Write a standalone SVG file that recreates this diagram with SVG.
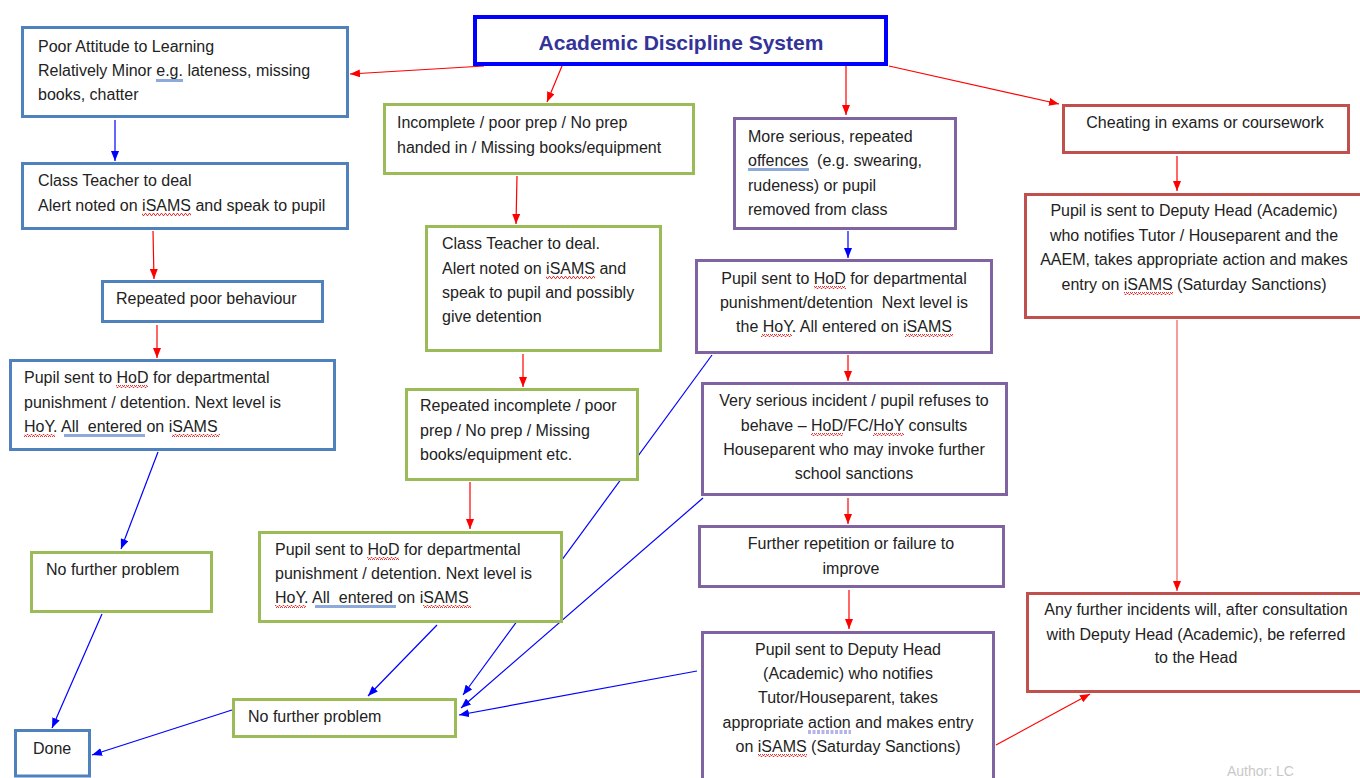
<svg xmlns="http://www.w3.org/2000/svg" width="1360" height="778" viewBox="0 0 1360 778">
<style>
text{font-family:"Liberation Sans",Arial,sans-serif;font-size:16px;fill:#222;white-space:pre}
.c{text-anchor:middle}
.title{font-size:21px;font-weight:bold;fill:#333399;text-anchor:middle}
.box{fill:#fff;stroke-width:3}
.bl{stroke:#4f81bd}.gr{stroke:#9bbb59}.pu{stroke:#8064a2}.rd{stroke:#c0504d}
.r{stroke:#ff0000;stroke-width:1.2;fill:none;marker-end:url(#ar)}
.b{stroke:#0000ff;stroke-width:1.2;fill:none;marker-end:url(#ab)}
.sq{fill:url(#wavy)}
.gm{fill:#8eaadb}
.gd{stroke:#6a6ad8;stroke-width:1;stroke-dasharray:3 1.5}
.auth{fill:#c8c8c8;font-size:14px}
</style>
<defs>
<marker id="ar" markerUnits="userSpaceOnUse" markerWidth="10" markerHeight="8" refX="10" refY="4" orient="auto"><path d="M0,0 L10,4 L0,8 z" fill="#ff0000"/></marker>
<marker id="ab" markerUnits="userSpaceOnUse" markerWidth="10" markerHeight="8" refX="10" refY="4" orient="auto"><path d="M0,0 L10,4 L0,8 z" fill="#0000ff"/></marker>
<pattern id="wavy" patternUnits="userSpaceOnUse" width="4" height="3"><path d="M0,2.5 L1,0.5 L2,0.5 L3,2.5 L4,2.5" fill="none" stroke="#e02020" stroke-width="0.9"/></pattern>
</defs>
<rect width="1360" height="778" fill="#fff"/>
<g id="connectors">
<line class="r" x1="484" y1="66" x2="350" y2="74"/>
<line class="r" x1="562" y1="66" x2="547" y2="102"/>
<line class="r" x1="846" y1="66" x2="846" y2="115"/>
<line class="r" x1="889" y1="66" x2="1059" y2="104"/>
<line class="b" x1="115" y1="120" x2="115" y2="161"/>
<line class="r" x1="153" y1="231" x2="154" y2="279"/>
<line class="r" x1="157" y1="325" x2="157" y2="358"/>
<line class="b" x1="158" y1="452" x2="121" y2="549"/>
<line class="b" x1="102" y1="614" x2="52" y2="728"/>
<line class="r" x1="517" y1="176" x2="516" y2="224"/>
<line class="r" x1="523" y1="354" x2="523" y2="387"/>
<line class="r" x1="470" y1="482" x2="470" y2="529"/>
<line class="b" x1="437" y1="625" x2="368" y2="696"/>
<line class="b" x1="712" y1="355" x2="463" y2="695"/>
<line class="b" x1="703" y1="498" x2="461" y2="708"/>
<line class="b" x1="697" y1="671" x2="459" y2="715"/>
<line class="b" x1="232" y1="710" x2="92" y2="755"/>
<line class="b" x1="848" y1="231" x2="848" y2="258"/>
<line class="r" x1="848" y1="355" x2="848" y2="381"/>
<line class="r" x1="848" y1="498" x2="848" y2="524"/>
<line class="r" x1="849" y1="590" x2="849" y2="629"/>
<line class="r" x1="1177" y1="156" x2="1177" y2="191"/>
<line class="r" x1="1177" y1="320" x2="1177" y2="591" style="stroke:#f25a5a"/>
<line class="r" x1="996" y1="745" x2="1090" y2="694"/>
</g>
<g id="title">
<rect x="475" y="17" width="411" height="47" fill="#fff" stroke="#0000ff" stroke-width="4"/>
<text class="title" x="681" y="50">Academic Discipline System</text>
</g>
<g id="poor-attitude">
<rect class="box bl" x="22.5" y="27.5" width="325" height="89"/>
<text x="38" y="52">Poor Attitude to Learning</text>
<text x="38" y="76">Relatively Minor e.g. lateness, missing</text>
<text x="38" y="100">books, chatter</text>
<rect class="gm" x="156" y="79" width="27" height="3"/>
</g>
<g id="class-teacher-1">
<rect class="box bl" x="22.5" y="163.5" width="325" height="65"/>
<text x="38" y="186">Class Teacher to deal</text>
<text x="38" y="211">Alert noted on iSAMS and speak to pupil</text>
<rect class="sq" x="142" y="213" width="49" height="3"/>
</g>
<g id="repeated-poor">
<rect class="box bl" x="102.5" y="281.5" width="220" height="40"/>
<text x="116" y="304">Repeated poor behaviour</text>
</g>
<g id="hod-1">
<rect class="box bl" x="10.5" y="360.5" width="324" height="89"/>
<text x="24" y="383">Pupil sent to HoD for departmental</text>
<text x="24" y="408">punishment / detention. Next level is</text>
<text x="24" y="432">HoY. All  entered on iSAMS</text>
<rect class="sq" x="116" y="385" width="32" height="3"/>
<rect class="sq" x="24" y="434" width="31" height="3"/>
<rect class="gm" x="64" y="434" width="81" height="3"/>
<rect class="sq" x="172" y="434" width="48" height="3"/>
</g>
<g id="no-further-1">
<rect class="box gr" x="31.5" y="552.5" width="180" height="59"/>
<text x="46" y="575">No further problem</text>
</g>
<g id="done">
<rect class="box bl" x="15.5" y="730.5" width="74" height="45.5" stroke-width="3.5"/>
<text x="33" y="754">Done</text>
</g>
<g id="incomplete">
<rect class="box gr" x="384.5" y="104.5" width="309" height="69"/>
<text x="397" y="128">Incomplete / poor prep / No prep</text>
<text x="397" y="153">handed in / Missing books/equipment</text>
</g>
<g id="class-teacher-2">
<rect class="box gr" x="426.5" y="226.5" width="234" height="124"/>
<text x="442" y="249">Class Teacher to deal.</text>
<text x="442" y="274">Alert noted on iSAMS and</text>
<text x="442" y="298">speak to pupil and possibly</text>
<text x="442" y="322">give detention</text>
<rect class="sq" x="546" y="276" width="49" height="3"/>
</g>
<g id="repeated-incomplete">
<rect class="box gr" x="406.5" y="389.5" width="231" height="90"/>
<text x="420" y="411">Repeated incomplete / poor</text>
<text x="420" y="436">prep / No prep / Missing</text>
<text x="420" y="460">books/equipment etc.</text>
</g>
<g id="hod-2">
<rect class="box gr" x="259.5" y="532.5" width="302" height="89"/>
<text x="275" y="555">Pupil sent to HoD for departmental</text>
<text x="275" y="579">punishment / detention. Next level is</text>
<text x="275" y="603">HoY. All  entered on iSAMS</text>
<rect class="sq" x="367" y="557" width="32" height="3"/>
<rect class="sq" x="275" y="605" width="31" height="3"/>
<rect class="gm" x="315" y="605" width="81" height="3"/>
<rect class="sq" x="423" y="605" width="48" height="3"/>
</g>
<g id="no-further-2">
<rect class="box gr" x="233.5" y="699.5" width="222" height="37"/>
<text x="248" y="722">No further problem</text>
</g>
<g id="more-serious">
<rect class="box pu" x="734.5" y="118.5" width="221" height="110"/>
<text x="748" y="142">More serious, repeated</text>
<text x="748" y="166">offences  (e.g. swearing,</text>
<text x="748" y="191">rudeness) or pupil</text>
<text x="748" y="215">removed from class</text>
<rect class="gm" x="748" y="168" width="61" height="3"/>
</g>
<g id="hod-3">
<rect class="box pu" x="696.5" y="260.5" width="295" height="92"/>
<text class="c" x="844" y="284">Pupil sent to HoD for departmental</text>
<text class="c" x="844" y="308">punishment/detention  Next level is</text>
<text class="c" x="844" y="332">the HoY. All entered on iSAMS</text>
<rect class="sq" x="814" y="286" width="32" height="3"/>
<rect class="sq" x="761" y="334" width="31" height="3"/>
<rect class="sq" x="905" y="334" width="48" height="3"/>
</g>
<g id="very-serious">
<rect class="box pu" x="702.5" y="383.5" width="304" height="111"/>
<text class="c" x="854" y="406">Very serious incident / pupil refuses to</text>
<text class="c" x="854" y="431">behave – HoD/FC/HoY consults</text>
<text class="c" x="854" y="455">Houseparent who may invoke further</text>
<text class="c" x="854" y="479">school sanctions</text>
<rect class="sq" x="811" y="433" width="32" height="3"/>
<rect class="sq" x="873" y="433" width="31" height="3"/>
</g>
<g id="further-repetition">
<rect class="box pu" x="699.5" y="526.5" width="304" height="60"/>
<text class="c" x="851" y="549">Further repetition or failure to</text>
<text class="c" x="851" y="574">improve</text>
</g>
<g id="deputy-head-1">
<rect class="box pu" x="702.5" y="632.5" width="291" height="160"/>
<text class="c" x="848" y="655">Pupil sent to Deputy Head</text>
<text class="c" x="848" y="679">(Academic) who notifies</text>
<text class="c" x="848" y="703">Tutor/Houseparent, takes</text>
<text class="c" x="848" y="728">appropriate action and makes entry</text>
<text class="c" x="848" y="752">on iSAMS (Saturday Sanctions)</text>
<line class="gd" x1="808" y1="731" x2="851" y2="731"/>
<line class="gd" x1="808" y1="733" x2="851" y2="733"/>
<rect class="sq" x="758" y="754" width="49" height="3"/>
</g>
<g id="cheating">
<rect class="box rd" x="1063.5" y="105.5" width="285" height="47"/>
<text class="c" x="1205" y="128">Cheating in exams or coursework</text>
</g>
<g id="deputy-head-2">
<rect class="box rd" x="1025.5" y="194.5" width="340" height="123"/>
<text class="c" x="1194" y="216">Pupil is sent to Deputy Head (Academic)</text>
<text class="c" x="1194" y="241">who notifies Tutor / Houseparent and the</text>
<text class="c" x="1194" y="265">AAEM, takes appropriate action and makes</text>
<text class="c" x="1194" y="290">entry on iSAMS (Saturday Sanctions)</text>
<rect class="sq" x="1124" y="292" width="49" height="3"/>
</g>
<g id="refer-head">
<rect class="box rd" x="1027.5" y="593.5" width="340" height="98"/>
<text class="c" x="1196" y="615">Any further incidents will, after consultation</text>
<text class="c" x="1196" y="640">with Deputy Head (Academic), be referred</text>
<text class="c" x="1196" y="663">to the Head</text>
</g>
<text class="auth" x="1227" y="776">Author: LC</text>
</svg>
